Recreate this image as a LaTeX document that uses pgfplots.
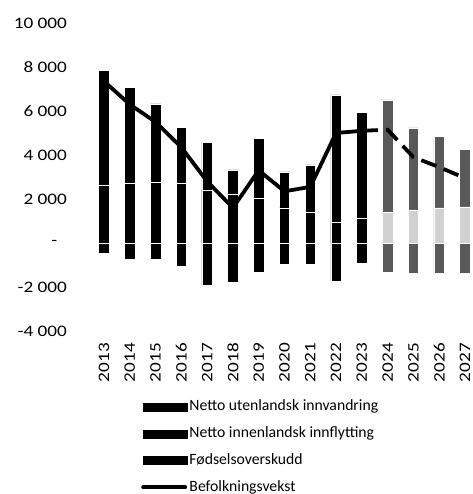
\documentclass[border=0pt]{standalone}
\usepackage{pgfplots}
\pgfplotsset{compat=1.18}
\usepackage{pgfplotstable}
\usepackage{fontspec}
\setmainfont{Carlito}

% year, birth surplus, net immigration, net domestic migration, population growth
\pgfplotstableread{
year birth imm dom growth
2013 2640 5220 -450 7350
2014 2700 4390 -730 6300
2015 2750 3570 -730 5500
2016 2700 2570 -1050 4350
2017 2400 2190 -1910 2800
2018 2200 1120 -1770 1600
2019 2050 2720 -1320 3300
2020 1600 1630 -950 2350
2021 1400 2150 -950 2550
2022 950 5780 -1730 5000
2023 1140 4810 -900 5100
2024 1400 5100 -1320 5150
2025 1500 3730 -1360 3900
2026 1600 3260 -1360 3450
2027 1640 2630 -1360 2950
}\befolkning

\pgfplotsset{
  mybar/.style={ybar, bar width=10.5bp, bar shift=0pt, draw=white, line width=0.5bp},
}

\begin{document}
\begin{tikzpicture}
\path[use as bounding box] (0,0) rectangle (473bp,494bp);
\begin{axis}[
    at={(91.1bp,163bp)}, anchor=south west,
    scale only axis, width=381.6bp, height=308bp,
    xmin=2012.5, xmax=2027.3,
    ymin=-4000, ymax=10000,
    scaled x ticks=false, scaled y ticks=false,
    axis line style={draw=none},
    major tick length=0pt,
    xtick={2013,2014,2015,2016,2017,2018,2019,2020,2021,2022,2023,2024,2025,2026,2027},
    xticklabels={2013,2014,2015,2016,2017,2018,2019,2020,2021,2022,2023,2024,2025,2026,2027},
    ytick={-4000,-2000,0,2000,4000,6000,8000,10000},
    yticklabels={{-4 000},{-2 000},{-\kern8bp},{2 000},{4 000},{6 000},{8 000},{10 000}},
    ticklabel style={font=\fontsize{16bp}{19bp}\selectfont, inner sep=0pt},
    yticklabel style={xshift=-24bp, xscale=1.2},
    xticklabel style={yshift=-12bp, rotate=90, xscale=1.2, anchor=east},
    clip=false,
    legend style={at={(0.1308,-0.2232)}, anchor=north west, draw=none, fill=none,
      inner sep=0pt, row sep=12.2bp, column sep=2bp,
      font=\fontsize{15.7bp}{18bp}\selectfont,
      nodes={inner sep=0pt, text height=11bp, text depth=3.5bp}},
    legend cell align=left,
  ]
  % historical bars
  \addplot[mybar, fill=black, restrict x to domain=2013:2023,
    legend image code/.code={\fill[black] (2bp,-4bp) rectangle (46bp,4bp);}]
    table[x=year, y expr=\thisrow{birth}+\thisrow{imm}] {\befolkning};
  \addplot[mybar, fill=black, restrict x to domain=2013:2023,
    legend image code/.code={\fill[black] (2bp,-4bp) rectangle (46bp,4bp);}]
    table[x=year, y=dom] {\befolkning};
  \addplot[mybar, fill=black, restrict x to domain=2013:2023,
    legend image code/.code={\fill[black] (2bp,-4bp) rectangle (46bp,4bp);}]
    table[x=year, y=birth] {\befolkning};
  % projections
  \addplot[mybar, fill=black!65, restrict x to domain=2024:2027, forget plot]
    table[x=year, y expr=\thisrow{birth}+\thisrow{imm}] {\befolkning};
  \addplot[mybar, fill=black!65, restrict x to domain=2024:2027, forget plot]
    table[x=year, y=dom] {\befolkning};
  \addplot[mybar, fill=black!18, restrict x to domain=2024:2027, forget plot]
    table[x=year, y=birth] {\befolkning};
  % population growth
  \addplot[black, line width=3.8bp, line join=round, line cap=round, restrict x to domain=2013:2023,
    legend image code/.code={\draw[black, line width=4bp, line cap=round] (2bp,0bp) -- (44bp,0bp);}]
    table[x=year, y=growth] {\befolkning};
  \addplot[black, line width=3.8bp, line join=round, dash pattern=on 16bp off 8bp,
    restrict x to domain=2023:2027, forget plot]
    table[x=year, y=growth] {\befolkning};
  \legend{Netto utenlandsk innvandring, Netto innenlandsk innflytting, Fødselsoverskudd, Befolkningsvekst}
\end{axis}
\end{tikzpicture}
\end{document}
